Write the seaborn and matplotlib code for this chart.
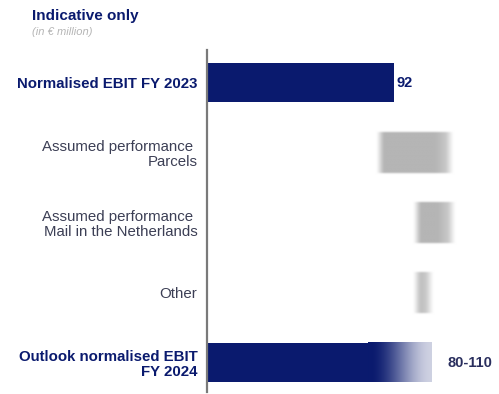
import numpy as np
import pandas as pd
import matplotlib
matplotlib.use("Agg")
import matplotlib.pyplot as plt
import seaborn as sns
from matplotlib.colors import to_rgb

categories = ["Normalised EBIT FY 2023",
              "Assumed performance \nParcels",
              "Assumed performance \nMail in the Netherlands",
              "Other",
              "Outlook normalised EBIT\nFY 2024"]
base_values = [92, 0, 0, 0, 80]
range_low = [np.nan, 85, 103, 103, 80]
range_high = [np.nan, 119, 120, 109, 110]
value_labels = ["92", "", "", "", "80-110"]
label_bold = [True, False, False, False, True]

NAVY = "#0a1a6e"
GRAY_BAR = "#b5b5b5"
LABEL_GRAY = "#3c3f55"

sns.set_theme(style="white")
plt.rcParams['font.family'] = ['Liberation Sans', 'DejaVu Sans']

fig = plt.figure(figsize=(4.99, 3.94), dpi=100)
ax = fig.add_axes([207/499, 1 - 392/394, 283/499, 342/394])

df = pd.DataFrame({"cat": categories, "val": base_values})
bw = 0.56
sns.barplot(data=df, y="cat", x="val", orient="h", color=NAVY,
            width=bw, ax=ax, saturation=1, linewidth=0)
bar_rgb = np.array(ax.patches[-1].get_facecolor()[:3])
for p in ax.patches:
    p.set_facecolor(NAVY)
    p.set_edgecolor("none")
    p.set_alpha(1)


def smooth(t):
    t = np.clip(t, 0, 1)
    return t * t * (3 - 2 * t)


white = np.ones(3)
for i, (lo, hi) in enumerate(zip(range_low, range_high)):
    if np.isnan(lo):
        continue
    nx, ny = 300, 80
    if i == len(categories) - 1:
        x0, x1 = lo - 1, hi
        xs = np.linspace(x0, x1, nx)
        rgb = np.array(to_rgb(NAVY))
        ax_prof = 1 - 0.8 * smooth((xs - lo) / (hi - lo))
        ay_prof = np.ones(ny)
        top, bot = i - bw / 2, i + bw / 2
    else:
        pad = 2.5
        x0, x1 = lo - pad, hi + pad
        xs = np.linspace(x0, x1, nx)
        ys = np.linspace(-1, 1, ny)
        rgb = np.array(to_rgb(GRAY_BAR))
        edge = 2 * pad
        ax_prof = smooth((xs - x0) / edge) * smooth((x1 - xs) / edge)
        ax_prof = ax_prof * (1 - 0.3 * smooth((xs - (hi - 8)) / 8))
        ay_prof = smooth((1 - np.abs(ys)) / 0.15)
        top, bot = i - bw / 2 - 0.04, i + bw / 2 + 0.04
    a = np.outer(ay_prof, ax_prof)[..., None]
    img = white * (1 - a) + rgb * a
    ax.imshow(img, extent=(x0, x1, bot, top), aspect="auto",
              interpolation="bilinear", zorder=3)

for i, (txt, b, h) in enumerate(zip(value_labels, base_values, range_high)):
    if not txt:
        continue
    xpos = b if i == 0 else h
    off = 1 if i == 0 else 8
    ax.text(xpos + off, i, txt, va="center", ha="left", fontsize=10.5,
            fontweight="bold", color="#2a2f5e" if i else NAVY)

ax.set_xlim(0, 139)
ax.set_ylim(4.42, -0.47)
ax.set_xlabel("")
ax.set_ylabel("")
ax.set_xticks([])
ax.tick_params(axis="y", length=0, pad=7)
for lbl, b in zip(ax.get_yticklabels(), label_bold):
    lbl.set_fontsize(10.8)
    lbl.set_linespacing(1.1)
    if b:
        lbl.set_fontweight("bold")
        lbl.set_color(NAVY)
    else:
        lbl.set_color(LABEL_GRAY)
    lbl.set_multialignment("right")

for s in ["top", "right", "bottom"]:
    ax.spines[s].set_visible(False)
ax.spines["left"].set_color("#7a7a7a")
ax.spines["left"].set_linewidth(1.6)
ax.set_facecolor("white")

fig.text(32/499, 1 - 16/394, "Indicative only", fontsize=11, fontweight="bold",
         color=NAVY, va="center", ha="left")
fig.text(32/499, 1 - 32/394, "(in € million)", fontsize=8, fontstyle="italic",
         color="#b5b5b5", va="center", ha="left")

fig.savefig("out.png", dpi=100, facecolor="white")
